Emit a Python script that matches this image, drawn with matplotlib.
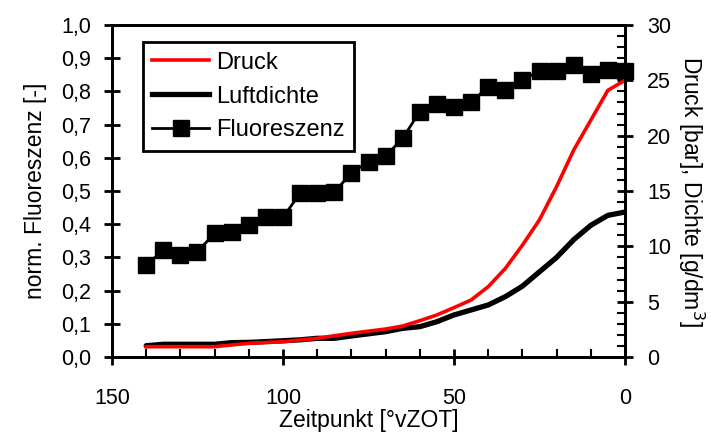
import matplotlib
matplotlib.use("Agg")
import matplotlib.pyplot as plt
from matplotlib.ticker import MultipleLocator, FuncFormatter
from matplotlib.lines import Line2D

plt.rcParams['font.family'] = ['Liberation Sans', 'DejaVu Sans']

# Fluoreszenz (left axis)
fl_x = [140, 135, 130, 125, 120, 115, 110, 105, 100, 95, 90, 85, 80, 75, 70,
        65, 60, 55, 50, 45, 40, 35, 30, 25, 20, 15, 10, 5, 0]
fl_y = [0.277, 0.322, 0.307, 0.317, 0.373, 0.377, 0.398, 0.421, 0.421, 0.493,
        0.493, 0.496, 0.555, 0.588, 0.605, 0.659, 0.739, 0.761, 0.754, 0.767,
        0.814, 0.804, 0.834, 0.862, 0.862, 0.880, 0.852, 0.864, 0.862]

# Druck [bar] (right axis)
p_x = [140, 130, 120, 110, 100, 90, 80, 70, 65, 60, 55, 50, 45, 40, 35, 30, 25, 20, 15, 10, 5, 0]
p_y = [0.93, 0.93, 0.93, 1.24, 1.38, 1.69, 2.14, 2.53, 2.8, 3.28, 3.8, 4.46, 5.15,
       6.35, 8.0, 10.1, 12.4, 15.4, 18.7, 21.4, 24.1, 25.0]

# Luftdichte [g/dm3] (right axis)
d_x = [140, 135, 130, 120, 115, 110, 100, 95, 90, 85, 80, 70, 65, 60, 55, 50, 45,
       40, 35, 30, 25, 20, 15, 10, 5, 0]
d_y = [1.02, 1.15, 1.15, 1.15, 1.3, 1.32, 1.47, 1.55, 1.69, 1.69, 1.9, 2.29, 2.59,
       2.74, 3.19, 3.8, 4.25, 4.7, 5.45, 6.4, 7.7, 9.0, 10.6, 11.9, 12.8, 13.1]

fig = plt.figure(figsize=(7.11, 4.32), dpi=100)
ax = fig.add_axes([112/711, 1-357/432, 513/711, 332/432])
ax2 = ax.twinx()

ax.plot(fl_x, fl_y, color='black', lw=2, marker='s', ms=11, clip_on=False, zorder=5)
ax2.plot(d_x, d_y, color='black', lw=3.8, solid_capstyle='round')
ax2.plot(p_x, p_y, color='#ff0000', lw=2.6)

ax.set_xlim(150, 0)
ax.set_ylim(0, 1.0)
ax2.set_ylim(0, 30)

fs = 15.5
lfs = 16.5
ax.xaxis.set_major_locator(MultipleLocator(50))
ax.xaxis.set_minor_locator(MultipleLocator(10))
ax.yaxis.set_major_locator(MultipleLocator(0.1))
ax.yaxis.set_major_formatter(FuncFormatter(lambda v, p: f"{v:.1f}".replace('.', ',')))
ax2.yaxis.set_major_locator(MultipleLocator(5))
ax2.yaxis.set_minor_locator(MultipleLocator(1))

ax.tick_params(axis='x', which='major', direction='inout', length=12, width=2, labelsize=fs, pad=16, top=False)
ax.tick_params(axis='x', which='minor', direction='in', length=6, width=1.5, top=False)
ax.tick_params(axis='y', which='major', direction='inout', length=12, width=2, labelsize=fs, pad=9)
ax2.tick_params(axis='y', which='major', direction='inout', length=12, width=2, labelsize=fs, pad=10)
ax2.tick_params(axis='y', which='minor', direction='in', length=6, width=1.5)

for a in (ax, ax2):
    for s in a.spines.values():
        s.set_linewidth(2)

ax.set_xlabel('Zeitpunkt [°vZOT]', fontsize=lfs, labelpad=0)
ax.set_ylabel('norm. Fluoreszenz [-]', fontsize=lfs, labelpad=10)
ax2.set_ylabel('Druck [bar], Dichte [g/dm$^3$]', fontsize=lfs, rotation=270, labelpad=25)

handles = [Line2D([], [], color='#ff0000', lw=2.6),
           Line2D([], [], color='black', lw=3.8),
           Line2D([], [], color='black', lw=2, marker='s', ms=11)]
leg = ax2.legend(handles, ['Druck', 'Luftdichte', 'Fluoreszenz'], loc='upper left',
                 bbox_to_anchor=(0.06, 0.948), fontsize=17, frameon=True, fancybox=False,
                 handlelength=2.4, borderpad=0.4, labelspacing=0.5, handletextpad=0.3,
                 borderaxespad=0)
leg.get_frame().set_edgecolor('black')
leg.get_frame().set_linewidth(2)
leg.get_frame().set_alpha(1)

fig.savefig('out.png', dpi=100)
